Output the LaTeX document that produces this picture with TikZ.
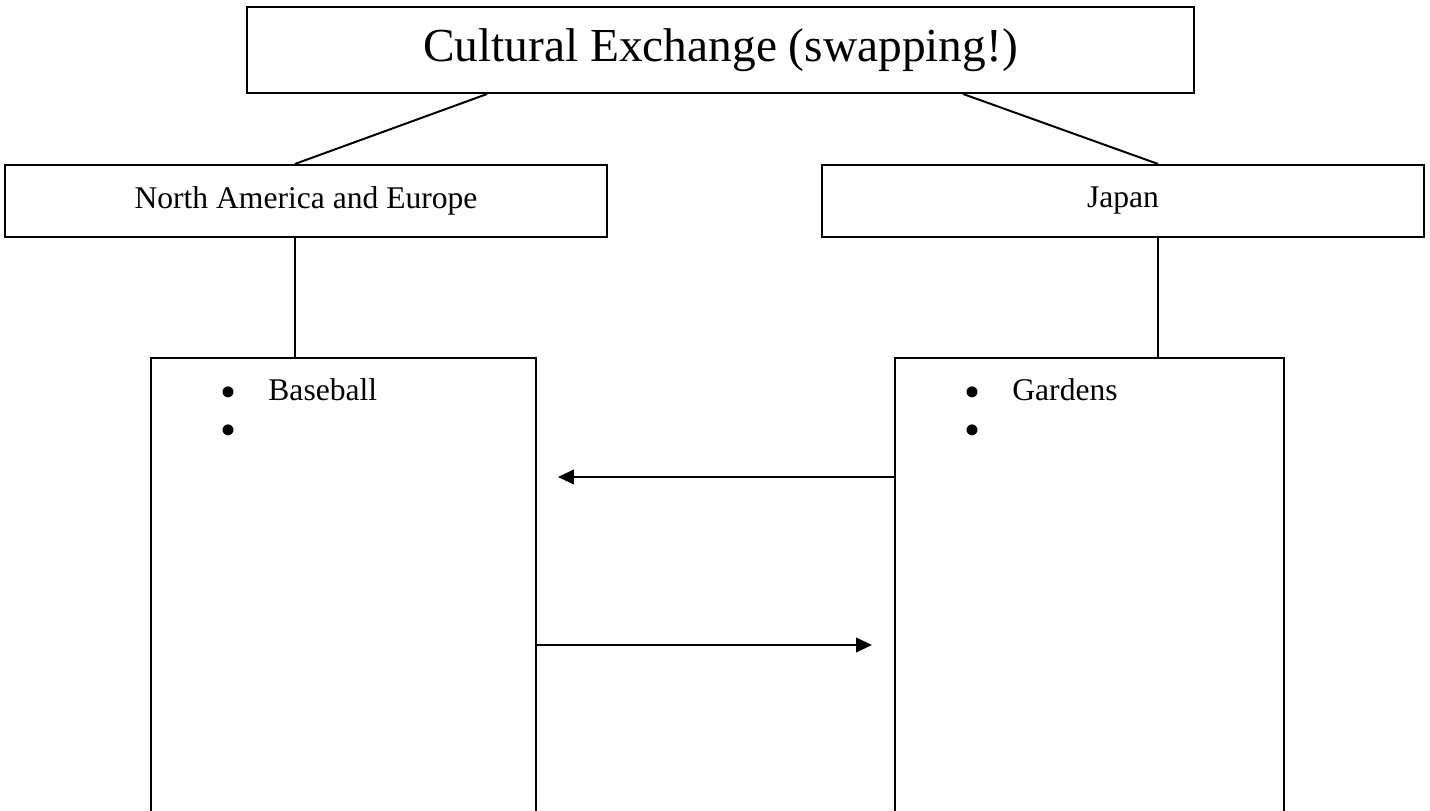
\documentclass[tikz,border=0pt]{standalone}
\usepackage{fontspec}
\setmainfont{Liberation Serif}
\usetikzlibrary{arrows.meta,positioning,calc}
\definecolor{ink}{HTML}{000000}
\tikzset{
  box/.style={draw=ink,line width=0.75pt,fill=white,inner sep=0pt,align=center,text=ink},
  headbox/.style={box,minimum width=359.9pt,minimum height=32.7pt,font=\fontsize{18}{22}\selectfont},
  sidebox/.style={box,minimum width=228.8pt,minimum height=27.4pt,font=\fontsize{12}{14}\selectfont},
  listbox/.style={box,anchor=north west,minimum height=220pt},
  items/.style={anchor=base west,inner sep=0pt,align=left,font=\fontsize{12}{14.4}\selectfont,text=ink},
  link/.style={draw=ink,line width=0.75pt},
  arrow/.style={link,-{Triangle[length=6pt,width=5.5pt]}},
}
\newcommand{\itembullet}{\makebox[18.2pt][l]{\smash{\raisebox{-2.6pt}{\scalebox{1.45}{\textbullet}}}}}

\begin{document}
\begin{tikzpicture}[x=0.38pt,y=-0.38pt]
  \useasboundingbox (0,0) rectangle (1430,811);
  \clip (0,0) rectangle (1430,811);
  % boxes
  \node[headbox] (title) at (720.5,50) {Cultural Exchange (swapping!)};
  \node[sidebox] (northam) at (306,201) {North America and Europe};
  \node[sidebox] (japan) at (1123,201) {Japan};
  \node[listbox,minimum width=146.3pt] (listna) at (150,357) {};
  \node[listbox,minimum width=147.8pt] (listjp) at (894,357) {};
  % base anchor sits on the last line
  \node[items] (itemsna) at ([xshift=26.6pt,yshift=-31pt]listna.north west) {\itembullet Baseball\\\itembullet};
  \node[items] (itemsjp) at ([xshift=26.6pt,yshift=-31pt]listjp.north west) {\itembullet Gardens\\\itembullet};
  % tree lines
  \draw[link] ([xshift=-88.7pt]title.south) -- ([xshift=-4.2pt]northam.north);
  \draw[link] ([xshift=92.2pt]title.south) -- ([xshift=13.3pt]japan.north);
  \draw[link] ([xshift=-4.2pt]northam.south) -- ([xshift=-4.2pt]northam.south |- listna.north);
  \draw[link] ([xshift=13.3pt]japan.south) -- ([xshift=13.3pt]japan.south |- listjp.north);
  % swaps
  \coordinate (tipna) at (558,477);
  \coordinate (tipjp) at (872,645);
  \draw[arrow] (listjp.west |- tipna) -- (tipna);
  \draw[arrow] (listna.east |- tipjp) -- (tipjp);
\end{tikzpicture}
\end{document}
